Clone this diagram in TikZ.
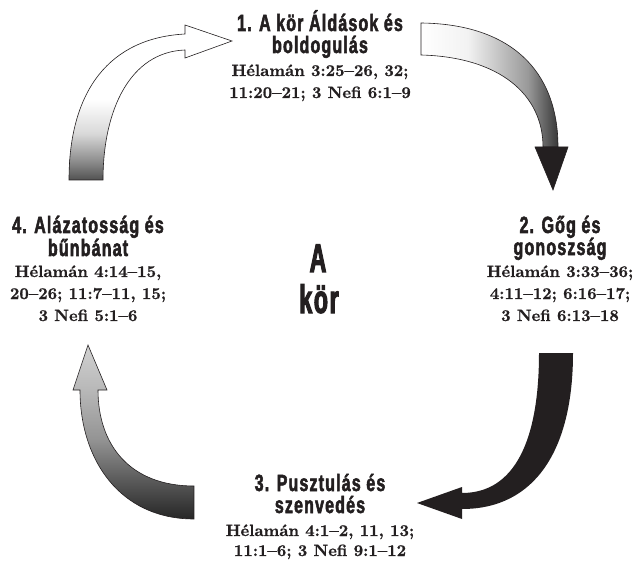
\documentclass[tikz,border=0pt]{standalone}
\usepackage{fontspec}
\newfontfamily\headfont[FakeStretch=0.68,LetterSpace=5,FakeBold=2.2]{Liberation Sans Bold}
\newfontfamily\bigfont[FakeStretch=0.58,LetterSpace=4,FakeBold=2.5]{Liberation Sans Bold}
\newfontfamily\reffont[FakeBold=0.9]{lmroman10-bold.otf}
\definecolor{ink}{HTML}{231F20}
\pgfdeclarehorizontalshading{arrone}{100bp}{color(0bp)=(white); color(25bp)=(white); color(42bp)=(black!5); color(64bp)=(black!40); color(75bp)=(black!78); color(100bp)=(black!78)}
\pgfdeclareverticalshading{arrthree}{100bp}{color(0bp)=(black!85); color(25bp)=(black!85); color(36bp)=(black!65); color(48bp)=(black!42); color(62bp)=(black!28); color(75bp)=(black!18); color(100bp)=(black!18)}
\pgfdeclareverticalshading{arrfour}{100bp}{color(0bp)=(black!68); color(25bp)=(black!68); color(31bp)=(black!45); color(40bp)=(black!15); color(51bp)=(white); color(75bp)=(white); color(100bp)=(white)}
\tikzset{
  headtxt/.style={font=\headfont\fontsize{23.5}{24}\selectfont, text=ink, anchor=base, inner sep=0pt},
  reftxt/.style={font=\reffont\fontsize{16.4}{20}\selectfont, text=ink, anchor=base, inner sep=0pt},
  bigtxt/.style={font=\bigfont\fontsize{40}{40}\selectfont, text=ink, anchor=base, inner sep=0pt},
  outl/.style={draw=ink, line width=0.6pt, line join=miter},
}
\begin{document}
\begin{tikzpicture}[x=1pt,y=-1pt]
\useasboundingbox (0,0) rectangle (634,561);
% arrow 1 (top right)
\shadedraw[outl, shading=arrone] (421,23) .. controls (510,24) and (558,70) .. (558,147) -- (543,147) .. controls (543,95) and (500,57) .. (421,55) -- cycle;
\filldraw[outl, fill=ink] (535,147) -- (568,147) -- (553,190) -- cycle;
% arrow 2 (right, black)
\fill[ink] (539,353) -- (573,353) .. controls (573,450) and (535,509) .. (462,509) -- (462,519) -- (417,503) -- (462,487) -- (462,493) .. controls (515,493) and (539,440) .. (539,353) -- cycle;
% arrow 3 (bottom left)
\shadedraw[outl, shading=arrthree] (194,486) -- (194,519) .. controls (120,519) and (80,460) .. (80,390) -- (73,390) -- (88,345) -- (107,390) -- (98,390) .. controls (98,445) and (130,486) .. (194,486) -- cycle;
% arrow 4 (top left)
\shadedraw[outl, shading=arrfour] (69,180) .. controls (69,90) and (110,38) .. (185,34) -- (185,25) -- (232,41) -- (185,58) -- (185,50) .. controls (130,52) and (103,110) .. (103,180) -- cycle;
% top block
\node[headtxt] (t1) at (320,31) {1. A kör Áldások és};
\node[headtxt] (t2) at (320,53) {boldogulás};
\node[reftxt] (t3) at (320,76) {Hélamán 3:25–26, 32;};
\node[reftxt] (t4) at (320,98) {11:20–21; 3 Nefi 6:1–9};
% right block
\node[headtxt] (r1) at (560,233) {2. Gőg és};
\node[headtxt] (r2) at (560,255) {gonoszság};
\node[reftxt] (r3) at (560,277) {Hélamán 3:33–36;};
\node[reftxt] (r4) at (560,299) {4:11–12; 6:16–17;};
\node[reftxt] (r5) at (560,321) {3 Nefi 6:13–18};
% left block
\node[headtxt] (l1) at (88,233) {4. Alázatosság és};
\node[headtxt] (l2) at (88,256) {bűnbánat};
\node[reftxt] (l3) at (88,277) {Hélamán 4:14–15,};
\node[reftxt] (l4) at (88,299) {20–26; 11:7–11, 15;};
\node[reftxt] (l5) at (88,321) {3 Nefi 5:1–6};
% bottom block
\node[headtxt] (b1) at (320,491) {3. Pusztulás és};
\node[headtxt] (b2) at (320,513) {szenvedés};
\node[reftxt] (b3) at (320,536) {Hélamán 4:1–2, 11, 13;};
\node[reftxt] (b4) at (320,556) {11:1–6; 3 Nefi 9:1–12};
% centre
\node[bigtxt] (c1) at (318,272) {A};
\node[bigtxt] (c2) at (319,313) {kör};
\end{tikzpicture}
\end{document}
